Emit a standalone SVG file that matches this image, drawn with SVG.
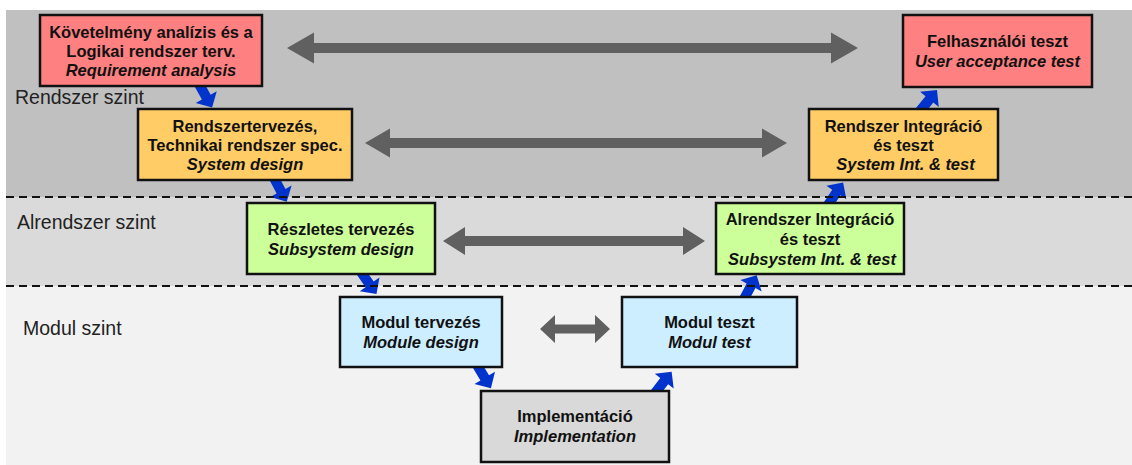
<svg xmlns="http://www.w3.org/2000/svg" xmlns:xlink="http://www.w3.org/1999/xlink" width="1132" height="465" viewBox="0 0 1132 465">
<style>
.box{stroke:#111;stroke-width:2.5}
.t{font-family:"Liberation Sans",Arial,sans-serif;font-size:16.5px;font-weight:bold;fill:#111;text-anchor:middle}
.i{font-style:italic}
.lvl{font-family:"Liberation Sans",Arial,sans-serif;font-size:19.5px;fill:#222}
.dash{stroke:#111;stroke-width:2;stroke-dasharray:8 5;fill:none}
.ga{fill:#606060}
.ba{fill:#0033cc}
</style>
<defs>
<path id="barrow" d="M0,-5 H15 V-12 L27,0 L15,12 V5 H0 Z"/>
</defs>
<rect width="1132" height="465" fill="#ffffff"/>
<g id="background">
<rect x="6" y="10" width="1126" height="187" fill="#c0c0c0"/>
<rect x="6" y="197" width="1126" height="89" fill="#dadada"/>
<rect x="6" y="286" width="1126" height="179" fill="#f2f2f2"/>
<text class="lvl" x="15" y="104">Rendszer szint</text>
<text class="lvl" x="17" y="229">Alrendszer szint</text>
<text class="lvl" x="23" y="335">Modul szint</text>
</g>
<g id="connectors">
<polygon class="ga" points="287,48 314,32.5 314,43 831,43 831,32.5 858,48 831,63.5 831,53 314,53 314,63.5"/>
<polygon class="ga" points="365,143 390,128.5 390,138 762,138 762,128.5 787,143 762,157.5 762,148 390,148 390,157.5"/>
<polygon class="ga" points="443,241 465,227 465,236 683,236 683,227 705,241 683,255 683,246 465,246 465,255"/>
<polygon class="ga" points="540,329 555,315 555,324.5 595,324.5 595,315 610,329 595,343 595,333.5 555,333.5 555,343"/>
<use class="ba" xlink:href="#barrow" href="#barrow" transform="translate(199,84) rotate(61)"/>
<use class="ba" xlink:href="#barrow" href="#barrow" transform="translate(274,178) rotate(62)"/>
<use class="ba" xlink:href="#barrow" href="#barrow" transform="translate(361,272) rotate(55)"/>
<use class="ba" xlink:href="#barrow" href="#barrow" transform="translate(477,365) rotate(59)"/>
<use class="ba" xlink:href="#barrow" href="#barrow" transform="translate(655,393) rotate(-52)"/>
<use class="ba" xlink:href="#barrow" href="#barrow" transform="translate(744,299) rotate(-62)"/>
<use class="ba" xlink:href="#barrow" href="#barrow" transform="translate(828,205) rotate(-56)"/>
<use class="ba" xlink:href="#barrow" href="#barrow" transform="translate(920,111) rotate(-51)"/>
</g>
<g id="level-lines">
<line class="dash" x1="6" y1="197" x2="1132" y2="197"/>
<line class="dash" x1="6" y1="286" x2="1132" y2="286"/>
</g>
<g id="node-requirement">
<rect class="box" x="40" y="15" width="222" height="71" fill="#ff8080"/>
<text class="t" x="151" y="38">Követelmény analízis és a</text>
<text class="t" x="151" y="57">Logikai rendszer terv.</text>
<text class="t i" x="151" y="76">Requirement analysis</text>
</g>
<g id="node-system-design">
<rect class="box" x="138" y="109" width="214" height="71" fill="#ffcc66"/>
<text class="t" x="245" y="132">Rendszertervezés,</text>
<text class="t" x="245" y="151">Technikai rendszer spec.</text>
<text class="t i" x="245" y="170">System design</text>
</g>
<g id="node-subsystem-design">
<rect class="box" x="247" y="203" width="188" height="71" fill="#ccff99"/>
<text class="t" x="341" y="235">Részletes tervezés</text>
<text class="t i" x="341" y="255">Subsystem design</text>
</g>
<g id="node-module-design">
<rect class="box" x="340" y="297" width="162" height="70" fill="#cceeff"/>
<text class="t" x="421" y="328">Modul tervezés</text>
<text class="t i" x="421" y="348">Module design</text>
</g>
<g id="node-implementation">
<rect class="box" x="481" y="391" width="188" height="71" fill="#d9d9d9"/>
<text class="t" x="575" y="422">Implementáció</text>
<text class="t i" x="575" y="442">Implementation</text>
</g>
<g id="node-module-test">
<rect class="box" x="622" y="297" width="175" height="70" fill="#cceeff"/>
<text class="t" x="709.5" y="328">Modul teszt</text>
<text class="t i" x="709.5" y="348">Modul test</text>
</g>
<g id="node-subsystem-int">
<rect class="box" x="716" y="203" width="188" height="71" fill="#ccff99"/>
<text class="t" x="810" y="225">Alrendszer Integráció</text>
<text class="t" x="810" y="245">és teszt</text>
<text class="t i" x="812" y="265">Subsystem Int. &amp; test</text>
</g>
<g id="node-system-int">
<rect class="box" x="809" y="109" width="189" height="71" fill="#ffcc66"/>
<text class="t" x="903.5" y="132">Rendszer Integráció</text>
<text class="t" x="903.5" y="151">és teszt</text>
<text class="t i" x="905.5" y="170">System Int. &amp; test</text>
</g>
<g id="node-acceptance">
<rect class="box" x="903" y="15" width="189" height="72" fill="#ff8080"/>
<text class="t" x="997.5" y="47">Felhasználói teszt</text>
<text class="t i" x="997.5" y="67">User acceptance test</text>
</g>
</svg>
